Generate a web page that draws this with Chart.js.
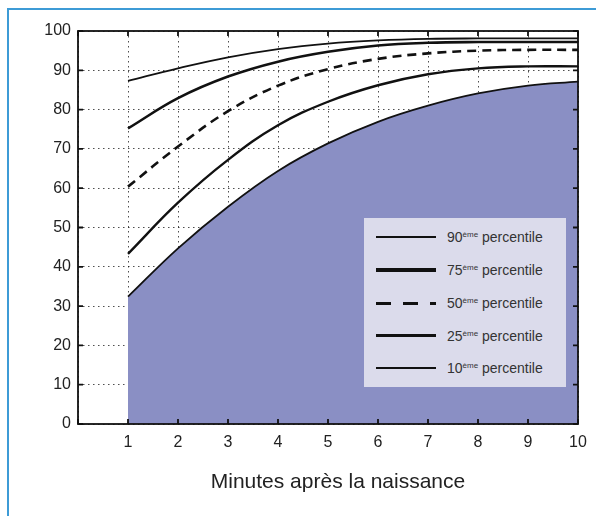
<!DOCTYPE html>
<html>
<head>
<meta charset="utf-8">
<script src="https://cdn.jsdelivr.net/npm/chart.js@4/dist/chart.umd.min.js"></script>
<style>
  html, body { margin: 0; padding: 0; background: #fff; }
  #wrap { position: relative; width: 596px; height: 516px; overflow: hidden; }
  #frame { position: absolute; left: 7px; top: 8px; width: 800px; height: 800px;
           border: 2px solid #3d9bd6; box-sizing: border-box; }
  #chartBox { position: absolute; left: 0; top: 0; width: 596px; height: 516px; }
  #xTitle { position: absolute; left: 138px; width: 400px; top: 470px; text-align: center;
            font: 21px "Liberation Sans", Arial, sans-serif; line-height: 1; color: #222; }
  #legend { position: absolute; left: 364px; top: 218px; width: 202px; height: 169px;
            background: #dbdbeb; font-family: "Liberation Sans", Arial, sans-serif; color: #333; }
  .row { position: absolute; left: 0; width: 100%; height: 20px; }
  .sample { position: absolute; left: 12px; width: 60px; top: 50%; background: #111; }
  .label { position: absolute; left: 83px; top: 50%; transform: translateY(-50%);
           font-size: 14px; white-space: nowrap; }
  .label sup { font-size: 8px; vertical-align: 5px; }
</style>
</head>
<body>
<div id="wrap">
  <div id="frame"></div>
  <div id="chartBox"><canvas id="chart"></canvas></div>
  <div id="xTitle"></div>
  <div id="legend"></div>
</div>
<script>
// minutes after birth (x) and percentile curves (y, %)
const minutes = [1, 2, 3, 4, 5, 6, 7, 8, 9, 10];
const p90 = [87.3, 90.5, 93.3, 95.4, 96.8, 97.6, 98, 98.1, 98.1, 98.1];
const p75 = [75.2, 82.9, 88.4, 92.2, 94.7, 96.3, 97, 97.2, 97.2, 97.2];
const p50 = [60.4, 70.6, 79.6, 86.1, 90.3, 92.9, 94.3, 95, 95.2, 95.2];
const p25 = [43.3, 56.3, 67.2, 76, 82, 86.2, 89, 90.5, 91, 91];
const p10 = [32.4, 44.7, 55.3, 64.4, 71.4, 76.9, 81, 84.1, 86.1, 87.1];

const xTicks = [0, 1, 2, 3, 4, 5, 6, 7, 8, 9, 10];
const yTicks = [0, 10, 20, 30, 40, 50, 60, 70, 80, 90, 100];
const xTitle = 'Minutes après la naissance';
const legendRanks = ['90', '75', '50', '25', '10'];

const FONT = '"Liberation Sans", Arial, sans-serif';

const toPoints = (ys) => minutes.map((m, i) => ({ x: m, y: ys[i] }));

/**
 * Box around the plot area with inward ticks on all four sides
 */
const boxTicks = {
  id: 'boxTicks',
  afterDraw(chart) {
    const { ctx, chartArea: a, scales } = chart;
    const len = 5;
    ctx.save();
    ctx.strokeStyle = '#111';
    ctx.lineWidth = 1.8;
    ctx.strokeRect(a.left, a.top, a.right - a.left, a.bottom - a.top);
    ctx.beginPath();
    xTicks.forEach(v => {
      const px = scales.x.getPixelForValue(v);
      ctx.moveTo(px, a.bottom); ctx.lineTo(px, a.bottom - len);
      ctx.moveTo(px, a.top); ctx.lineTo(px, a.top + len);
    });
    yTicks.forEach(v => {
      const py = scales.y.getPixelForValue(v);
      ctx.moveTo(a.left, py); ctx.lineTo(a.left + len, py);
      ctx.moveTo(a.right, py); ctx.lineTo(a.right - len, py);
    });
    ctx.stroke();
    ctx.restore();
  }
};

const lineSet = (label, ys, width, extra = {}) => Object.assign({
  label,
  data: toPoints(ys),
  borderColor: '#111',
  borderWidth: width,
  pointRadius: 0,
  tension: 0.4,
  fill: false
}, extra);

const gridStyle = {
  color: 'rgba(20,20,20,0.75)',
  lineWidth: 1,
  drawTicks: false
};

new Chart(document.getElementById('chart'), {
  type: 'line',
  data: {
    datasets: [
      lineSet('10ème percentile', p10, 1.8, { fill: 'origin', backgroundColor: '#8a8fc4' }),
      lineSet('25ème percentile', p25, 2.4),
      lineSet('50ème percentile', p50, 2.6, { borderDash: [9, 6] }),
      lineSet('75ème percentile', p75, 2.6),
      lineSet('90ème percentile', p90, 1.8)
    ]
  },
  options: {
    responsive: true,
    maintainAspectRatio: false,
    animation: false,
    devicePixelRatio: 1,
    layout: { padding: { left: 0, top: 31, right: 18, bottom: 0 } },
    plugins: {
      legend: { display: false },
      tooltip: { enabled: false }
    },
    scales: {
      x: {
        type: 'linear',
        min: 0,
        max: 10,
        z: 1,
        afterFit: (s) => { s.height = 92; },
        afterBuildTicks: (s) => { s.ticks = xTicks.map(v => ({ value: v })); },
        ticks: {
          padding: 9,
          color: '#222',
          font: { family: FONT, size: 16 },
          callback: (v) => (v === 0 ? '' : v)
        },
        grid: Object.assign({}, gridStyle),
        border: { display: false, dash: [1.5, 3.5] }
      },
      y: {
        min: 0,
        max: 100,
        z: 1,
        afterFit: (s) => { s.width = 78; },
        afterBuildTicks: (s) => { s.ticks = yTicks.map(v => ({ value: v })); },
        ticks: {
          padding: 7,
          color: '#222',
          font: { family: FONT, size: 16 }
        },
        grid: Object.assign({}, gridStyle),
        border: { display: false, dash: [1.5, 3.5] }
      }
    }
  },
  plugins: [boxTicks]
});

// x axis title
document.getElementById('xTitle').textContent = xTitle;

// legend, same order as the reference
const legendStyles = [
  { h: 2, dash: false },
  { h: 3.5, dash: false },
  { h: 3.5, dash: true },
  { h: 3, dash: false },
  { h: 2, dash: false }
];
const legendRows = [18.7, 52, 85.3, 117.7, 149.7];
const legend = document.getElementById('legend');
legendRanks.forEach((rank, i) => {
  const row = document.createElement('div');
  row.className = 'row';
  row.style.top = (legendRows[i] - 10) + 'px';
  const sample = document.createElement('div');
  sample.className = 'sample';
  const st = legendStyles[i];
  sample.style.height = st.h + 'px';
  sample.style.marginTop = (-st.h / 2) + 'px';
  if (st.dash) {
    sample.style.background = 'repeating-linear-gradient(to right, #111 0 15px, transparent 15px 27px)';
  }
  const label = document.createElement('div');
  label.className = 'label';
  label.innerHTML = rank + '<sup>ème</sup> percentile';
  row.appendChild(sample);
  row.appendChild(label);
  legend.appendChild(row);
});
</script>
</body>
</html>
